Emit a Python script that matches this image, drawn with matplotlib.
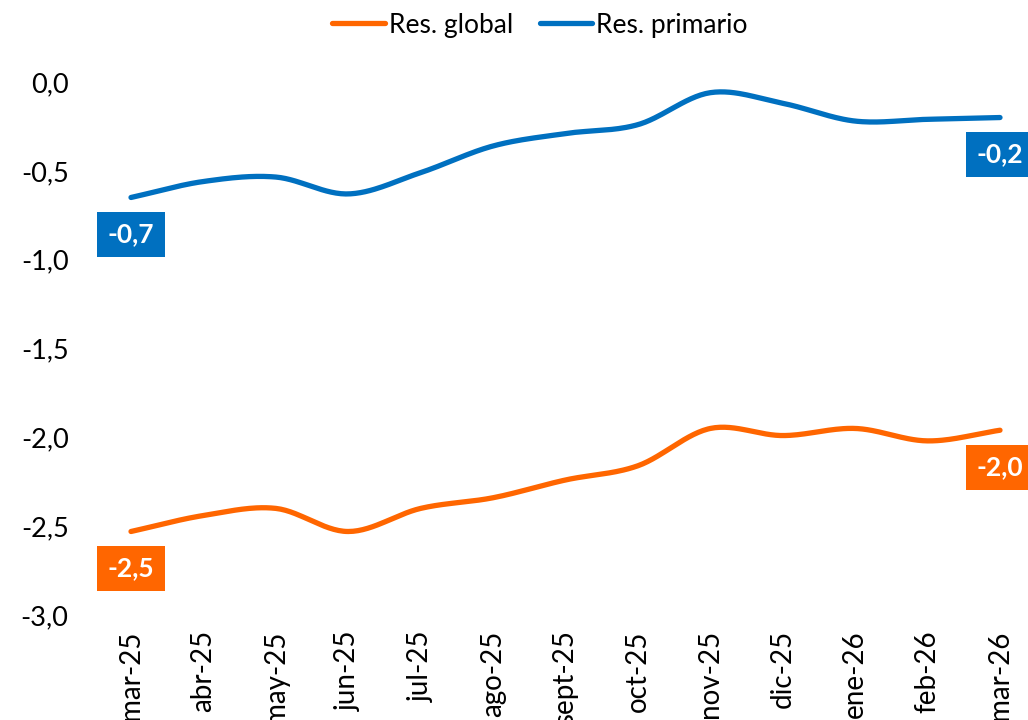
import numpy as np
import matplotlib
matplotlib.use("Agg")
import matplotlib.pyplot as plt

plt.rcParams['font.family'] = ['Lato', 'DejaVu Sans']

months = ["mar-25", "abr-25", "may-25", "jun-25", "jul-25", "ago-25", "sept-25",
          "oct-25", "nov-25", "dic-25", "ene-26", "feb-26", "mar-26"]
res_global = [-2.53, -2.44, -2.40, -2.53, -2.40, -2.34, -2.24, -2.16, -1.95, -1.99, -1.95, -2.02, -1.96]
res_primario = [-0.65, -0.56, -0.535, -0.63, -0.51, -0.36, -0.29, -0.24, -0.06, -0.12, -0.22, -0.21, -0.20]
yticks = [0.0, -0.5, -1.0, -1.5, -2.0, -2.5, -3.0]

ORANGE = "#FF6600"
BLUE = "#0070C0"


def smooth(y, n=30):
    y = np.asarray(y, float)
    x = np.arange(len(y), dtype=float)
    p = np.concatenate([[2 * y[0] - y[1]], y, [2 * y[-1] - y[-2]]])
    xs, ys = [], []
    for i in range(len(y) - 1):
        p0, p1, p2, p3 = p[i], p[i + 1], p[i + 2], p[i + 3]
        t = np.linspace(0, 1, n, endpoint=False)
        yy = 0.5 * ((2 * p1) + (-p0 + p2) * t + (2 * p0 - 5 * p1 + 4 * p2 - p3) * t ** 2
                    + (-p0 + 3 * p1 - 3 * p2 + p3) * t ** 3)
        xs.append(x[i] + t)
        ys.append(yy)
    xs.append([x[-1]])
    ys.append([y[-1]])
    return np.concatenate(xs), np.concatenate(ys)


fig = plt.figure(figsize=(10.28, 7.2), dpi=100)
ax = fig.add_axes([95 / 1028, 1 - 615 / 720, 1 - 95 / 1028, (615 - 82) / 720])

x = np.arange(len(months))
for vals, col, lab in [(res_global, ORANGE, "Res. global"), (res_primario, BLUE, "Res. primario")]:
    sx, sy = smooth(vals)
    ax.plot(sx, sy, color=col, lw=3.8, solid_capstyle='round', label=lab, clip_on=False)
    for i in (0, len(vals) - 1):
        ax.annotate(f"{vals[i]:.1f}".replace(".", ","), xy=(x[i], vals[i]),
                    xytext=(0, -37), textcoords='offset pixels', ha='center', va='center',
                    color='white', fontsize=19, fontweight='bold',
                    bbox=dict(boxstyle='square,pad=0.4', fc=col, ec='none'),
                    annotation_clip=False)

ax.set_xlim(-36 / 72.42, 12 + 28 / 72.42)
ax.set_ylim(-3.0, 0.0)
ax.set_yticks(yticks)
ax.set_yticklabels([f"{v:.1f}".replace(".", ",") for v in yticks], fontsize=19.5)
ax.set_xticks(x)
ax.set_xticklabels(months, rotation=90, fontsize=20, va='top', ha='center')
ax.tick_params(axis='y', length=0, pad=19)
ax.tick_params(axis='x', length=0, pad=11)
for s in ax.spines.values():
    s.set_visible(False)

leg = fig.legend(loc='center', bbox_to_anchor=(540 / 1028, 1 - 25 / 720), ncol=2, frameon=False,
                 fontsize=19, handlelength=2.0, handletextpad=0.15, columnspacing=1.0)

fig.savefig("out.png", dpi=100)
